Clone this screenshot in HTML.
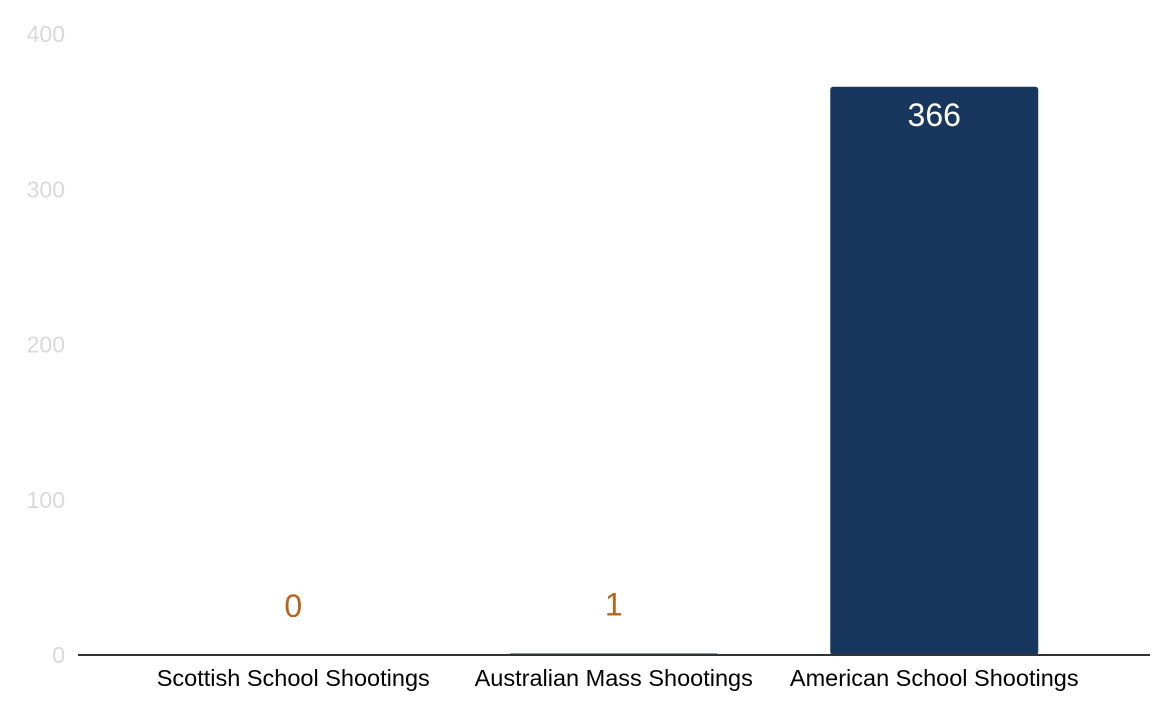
<!DOCTYPE html>
<html><head><meta charset="utf-8"><style>
body{margin:0;background:#fff;}
svg{display:block;font-family:"Liberation Sans",Arial,sans-serif;}
</style></head><body>
<svg id="chart" width="1164" height="712"></svg>
<script>
const categories=["Scottish School Shootings","Australian Mass Shootings","American School Shootings"];
const values=[0,1,366];
const yTicks=[0,100,200,300,400];
const svg=document.getElementById('chart');
const NS='http://www.w3.org/2000/svg';
const y0=655,y1=34,yMax=400;
function y(v){return y0-(y0-y1)*v/yMax;}
const start=133,step=320.5,barW=208;
function xc(i){return start+step*(i+0.5);}
function mk(t,a){const e=document.createElementNS(NS,t);for(const k in a)e.setAttribute(k,a[k]);svg.appendChild(e);return e;}
yTicks.forEach(t=>{
const e=mk('text',{x:65,y:y(t)+8,'text-anchor':'end','font-size':23,fill:'#d9d9d9'});
e.textContent=t;


});
values.forEach((v,i)=>{
const h=y0-y(v);
const b=mk('rect',{x:xc(i)-barW/2,y:y(v),width:barW,height:h,rx:Math.min(3,h/2),fill:'#18375f'});


const inside=h>60;
const l=mk('text',{x:xc(i),y:inside?y(v)+39:y(v)-38,'text-anchor':'middle','font-size':32,fill:inside?'#ffffff':'#b5651d'});
l.textContent=v;


const c=mk('text',{x:xc(i),y:686,'text-anchor':'middle','font-size':23.5,fill:'#000'});
c.textContent=categories[i];


});
const ax=mk('line',{x1:78,x2:1150,y1:655,y2:655,stroke:'#333','stroke-width':2});


</script>
</body></html>
